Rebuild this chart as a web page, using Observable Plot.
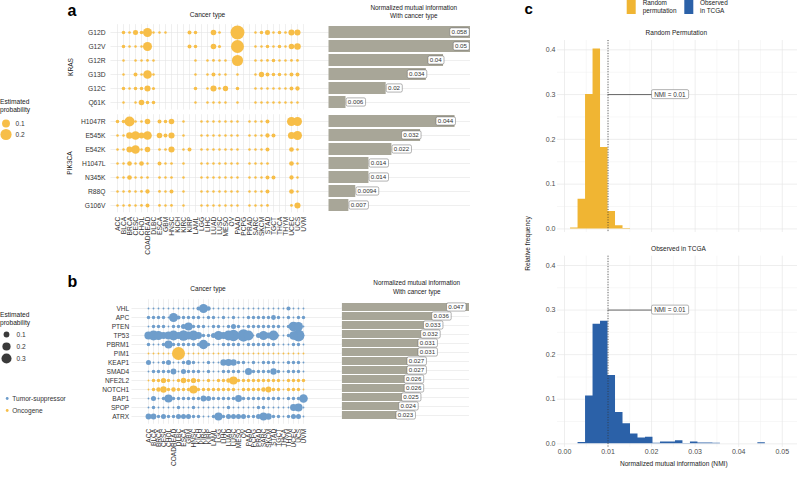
<!DOCTYPE html>
<html><head><meta charset="utf-8">
<script src="https://cdn.jsdelivr.net/npm/d3@7"></script>
<script src="https://cdn.jsdelivr.net/npm/@observablehq/plot@0.6"></script>
<style>
body{margin:0;background:#fff;}
#fig{position:relative;width:798px;height:477px;overflow:hidden;background:#fff;font-family:"Liberation Sans",Arial,sans-serif;}
</style></head><body><div id="fig"></div><script>
// ---------------- data ----------------
const cancerTypes = ["ACC","BLCA","BRCA","CESC","CHOL","COADREAD","DLBC","ESCA","GBM","HNSC","KICH","KIRC","KIRP","LAML","LGG","LIHC","LUAD","LUSC","MESO","OV","PAAD","PCPG","PRAD","SARC","SKCM","STAD","TGCT","THCA","THYM","UCEC","UCS","UVM"];

const krasVariants = ["G12D","G12V","G12R","G13D","G12C","Q61K"];
const krasProb = [
  [0,.02,.012,.04,.02,.13,.01,.01,.01,0,0,0,.025,.02,0,0,.05,.012,0,0,.31,0,0,.01,.02,.04,.01,.02,.012,.06,.06,0],
  [0,.02,.01,.01,.01,.13,0,0,0,0,0,0,.025,.02,0,0,.05,.015,0,0,.27,0,0,.01,.01,.02,.01,.02,.01,.05,.07,0],
  [0,.01,0,.01,.01,.012,.01,0,0,0,0,0,0,.01,0,.01,.012,.01,.01,0,.2,0,0,.01,.01,.012,.02,.01,.01,.012,.012,0],
  [0,.01,0,.025,.01,.12,.01,0,0,0,0,0,0,.01,0,.01,.025,.01,.01,0,.01,0,0,.01,.045,.025,.02,.02,.01,.025,.025,0],
  [0,.02,.01,.02,.02,.06,.015,0,0,0,0,0,0,.02,0,.01,.06,.012,.045,0,.02,0,0,.01,.01,.01,.01,.01,.01,.025,.03,0],
  [0,.01,0,.01,.05,.02,.02,0,0,0,0,0,0,.01,0,.01,.01,.01,.01,0,.01,0,0,.01,.01,.01,.01,.01,.01,.01,.01,0]
];
const krasNMI = [0.058,0.05,0.04,0.034,0.02,0.006];

const pik3caVariants = ["H1047R","E545K","E542K","H1047L","N345K","R88Q","G106V"];
const pik3caProb = [
  [.02,.02,.16,.012,.012,.05,0,.025,.02,.05,0,.01,0,0,.01,.01,.01,.01,.01,.01,.01,0,.01,.01,.01,.025,0,0,0,.13,.13,0],
  [.01,.01,.07,.12,.06,.12,0,.05,.025,.06,0,.01,0,0,.01,.01,.01,.01,.01,.01,.01,0,.01,.01,.01,.03,.025,0,0,.08,.13,0],
  [.01,.01,.06,.12,.01,.05,0,.012,.012,.06,0,.01,.025,0,.01,.01,.01,.01,.01,.01,.01,0,.01,.01,.01,.025,0,0,0,.035,.012,0],
  [.01,.01,.035,.01,.035,.01,0,.025,.01,.012,0,.01,0,0,.01,.01,.01,.01,.01,.01,.01,0,.01,.01,.01,.012,0,0,0,.035,.01,0],
  [.01,.01,.035,.01,.012,.012,0,.012,.01,.012,0,.01,0,0,.01,.01,.01,.01,.01,.01,.01,0,.01,.01,.01,.025,.025,0,0,.03,.01,0],
  [.01,.01,.012,.01,.012,.03,0,.012,.01,.025,0,.01,0,0,.01,.01,.01,.01,.01,.01,.01,0,.01,.01,.01,.025,0,0,0,.035,.01,0],
  [.01,.01,.012,.01,.012,.025,0,.012,.01,.012,0,.01,0,0,.01,.01,.01,.01,.01,.01,.01,0,.01,.01,.01,.012,0,0,0,.012,.06,0]
];
const pik3caNMI = [0.044,0.032,0.022,0.014,0.014,0.0094,0.007];

const driverGenes = ["VHL","APC","PTEN","TP53","PBRM1","PIM1","KEAP1","SMAD4","NFE2L2","NOTCH1","BAP1","SPOP","ATRX"];
const driverRole = ["Tumor-suppressor","Tumor-suppressor","Tumor-suppressor","Tumor-suppressor","Tumor-suppressor","Oncogene","Tumor-suppressor","Tumor-suppressor","Oncogene","Oncogene","Tumor-suppressor","Tumor-suppressor","Tumor-suppressor"];
const driverProb = [
  [.01,.01,.01,.01,.01,.01,.01,.01,.01,.01,.05,.24,.06,.01,.01,.01,.01,.01,.01,.01,.01,.01,.01,.01,.01,.01,.01,.01,.05,.01,.01,.01],
  [.035,.035,.035,.035,.01,.24,.05,.035,.035,.035,.035,.01,.035,.035,.01,.035,.01,.035,.01,.01,.035,.035,.035,.035,.035,.07,.035,.01,.035,.01,.035,.035],
  [.01,.035,.035,.035,.01,.035,.035,.075,.2,.035,.035,.035,.01,.035,.035,.01,.035,.075,.035,.01,.035,.035,.035,.035,.035,.035,.035,.01,.035,.28,.24,.01],
  [.2,.3,.24,.14,.18,.3,.14,.32,.2,.3,.14,.035,.035,.075,.24,.14,.3,.38,.035,.45,.3,.01,.075,.24,.1,.3,.01,.01,.035,.22,.42,.01],
  [.035,.01,.01,.035,.19,.035,.035,.035,.035,.035,.035,.26,.035,.01,.01,.035,.035,.035,.035,.01,.035,.035,.035,.035,.035,.035,.01,.01,.01,.035,.035,.01],
  [.01,.01,.01,.01,.01,.01,.5,.01,.01,.01,.01,.01,.01,.01,.01,.01,.01,.01,.01,.01,.01,.01,.01,.01,.01,.01,.01,.01,.01,.01,.01,.01],
  [.075,.01,.01,.035,.075,.01,.01,.035,.075,.035,.01,.01,.035,.01,.01,.12,.14,.12,.035,.035,.01,.035,.01,.035,.035,.035,.01,.01,.035,.035,.035,.01],
  [.01,.035,.035,.035,.035,.1,.01,.075,.035,.035,.035,.01,.035,.01,.01,.035,.035,.035,.035,.01,.145,.035,.035,.035,.035,.12,.035,.01,.035,.035,.035,.01],
  [.01,.035,.035,.08,.035,.01,.035,.09,.035,.08,.035,.01,.035,.01,.035,.035,.06,.2,.035,.035,.035,.035,.035,.035,.035,.035,.035,.01,.035,.035,.035,.035],
  [.01,.035,.06,.12,.035,.06,.035,.035,.035,.2,.035,.035,.035,.035,.035,.035,.035,.035,.01,.035,.035,.035,.035,.06,.1,.035,.035,.01,.035,.035,.035,.01],
  [.01,.075,.01,.035,.2,.035,.035,.035,.035,.035,.035,.1,.075,.035,.035,.035,.035,.035,.14,.035,.035,.035,.035,.035,.035,.035,.035,.01,.035,.035,.035,.22],
  [.01,.035,.01,.01,.01,.01,.035,.01,.01,.035,.01,.01,.01,.01,.01,.01,.035,.01,.01,.01,.01,.01,.035,.035,.01,.01,.01,.01,.01,.14,.2,.01],
  [.1,.1,.035,.075,.035,.035,.075,.075,.075,.035,.035,.01,.01,.035,.2,.035,.075,.075,.075,.075,.035,.035,.075,.18,.12,.035,.035,.01,.035,.075,.075,.01]
];
const driverNMI = [0.047,0.036,0.033,0.032,0.031,0.031,0.027,0.027,0.026,0.026,0.025,0.024,0.023];

const nmiBinStart = [0.0014,0.00312,0.00484,0.00656,0.00828,0.0100,0.01172,0.01344,0.01516,0.01688,0.0186,0.02032,0.02204,0.02376,0.02548,0.0272,0.02892,0.03064,0.03236,0.03408,0.0358,0.03752,0.03924,0.04096,0.04268,0.0444];
const nmiBinWidth = 0.00172;
const permutedFreq = [0.002,0.066,0.300,0.402,0.182,0.039,0.007,0.001,0,0,0,0,0,0,0,0,0,0,0,0,0,0,0,0,0,0];
const observedFreq = [0,0.003,0.107,0.268,0.275,0.153,0.070,0.045,0.022,0.013,0.015,0.0015,0.004,0.004,0.007,0.001,0.004,0.002,0.002,0.0015,0,0,0,0,0,0.0025];
const nmiThreshold = 0.01;
const nmiTicks = [0,0.01,0.02,0.03,0.04,0.05];
const nmiMinorTicks = [0.005,0.015,0.025,0.035,0.045];
const freqTicks = [0,0.1,0.2,0.3,0.4];
const freqMinorTicks = [0.05,0.15,0.25,0.35];
const probLegendA = [0.1,0.2];
const probLegendB = [0.1,0.2,0.3];
const roleLegend = ["Tumor-suppressor","Oncogene"];

// ---------------- styles ----------------
const FONT = '"Liberation Sans", Arial, Helvetica, sans-serif';
const orange = "#F7BE48", blue = "#6E9DCB", gridColor = "#E4E4E4", barGray = "#A8A698";
const permColor = "#F0B533", obsColor = "#2B61A8";
const rA = {type:"sqrt", domain:[0,0.4], range:[0,7.9]};
const rB = {type:"sqrt", domain:[0,0.5], range:[0,6.5]};
const roleColor = {domain: roleLegend, range: [blue, orange]};
const fig = document.getElementById("fig");
const st = (fs, color="#333") => ({background:"none", overflow:"visible", fontFamily:FONT, fontSize:fs+"px", color, maxWidth:"none"});
function place(node, left, top){ node.style.position="absolute"; node.style.left=left+"px"; node.style.top=top+"px"; fig.appendChild(node); return node; }
function tidy(rows, probs, extra = () => ({})) {
  const out = [];
  rows.forEach((row, i) => probs[i].forEach((p, j) => { if (p > 0) out.push({row, cancer: cancerTypes[j], p, ...extra(i)}); }));
  return out;
}
function boxTexts(svg, pred, padX = 1.7, padY = 0.6) {
  svg.querySelectorAll("text").forEach(t => {
    if (!pred(t.textContent)) return;
    const b = t.getBBox();
    const r = document.createElementNS("http://www.w3.org/2000/svg","rect");
    r.setAttribute("x", b.x - padX); r.setAttribute("y", b.y - padY);
    r.setAttribute("width", b.width + 2*padX); r.setAttribute("height", b.height + 2*padY);
    r.setAttribute("rx", 1.5); r.setAttribute("fill", "#fff"); r.setAttribute("stroke", "#666"); r.setAttribute("stroke-width", 0.5);
    const tr = t.getAttribute("transform"); if (tr) r.setAttribute("transform", tr);
    t.parentNode.insertBefore(r, t);
  });
}

function dotPanel({rows, data, r, fill, color, width, height, frame, xPoints, yCenters, showX, fontSize, rowPad, xPad}) {
  return Plot.plot({
    width, height,
    marginLeft: frame.left, marginRight: width - frame.right, marginTop: frame.top, marginBottom: height - frame.bottom,
    style: st(fontSize),
    x: {type:"point", domain: cancerTypes, range: xPoints, padding: 0, axis: showX ? "bottom" : null, tickRotate: -90, tickSize: 0, tickPadding: xPad, label: null},
    y: {type:"point", domain: rows, range: yCenters, padding: 0, axis: "left", tickSize: 0, tickPadding: rowPad, label: null},
    r, color,
    marks: [
      Plot.ruleX(cancerTypes, {x: d => d, stroke: gridColor, strokeWidth: 0.6}),
      Plot.ruleY(rows, {y: d => d, stroke: gridColor, strokeWidth: 0.6}),
      Plot.dot(data, {x: "cancer", y: "row", r: "p", fill, stroke: null})
    ]
  });
}

function barPanel({rows, values, width, height, frame, xMax, padIn, mode}) {
  const data = rows.map((row, i) => ({row, v: values[i], label: String(values[i])}));
  const halfLab = 13.5 / ((frame.right - frame.left) / xMax);
  const marks = [
    Plot.ruleY(rows, {y: d => d, stroke: gridColor, strokeWidth: 0.6}),
    Plot.barX(data, {x: "v", y: "row", fill: barGray, clip: true})
  ];
  if (mode === "side") {
    marks.push(Plot.text(data.filter(d => d.v >= 0.03), {x: d => Math.min(d.v, xMax * 0.988), y: "row", text: "label", textAnchor: "end", dx: -1.8, fontSize: 6.2, fill: "#333"}));
    marks.push(Plot.text(data.filter(d => d.v < 0.03), {x: "v", y: "row", text: "label", textAnchor: "start", dx: 1.8, fontSize: 6.2, fill: "#333"}));
  } else {
    marks.push(Plot.text(data, {x: d => Math.min(d.v, xMax - halfLab), y: "row", text: "label", textAnchor: "middle", fontSize: 6.2, fill: "#333"}));
  }
  return Plot.plot({
    width, height,
    marginLeft: frame.left, marginRight: width - frame.right, marginTop: frame.top, marginBottom: height - frame.bottom,
    style: st(6.2),
    x: {domain: [0, xMax], axis: null},
    y: {type: "band", domain: rows, paddingInner: padIn, paddingOuter: padIn / 2, axis: null},
    marks
  });
}

function histPanel({freq, fill, width, height, frame, showX}) {
  // step outline of the histogram: each bin holds its frequency until the next bin edge
  const steps = nmiBinStart.map((x, i) => ({x, f: freq[i]}));
  steps.push({x: nmiBinStart[nmiBinStart.length - 1] + nmiBinWidth, f: 0});
  return Plot.plot({
    width, height,
    marginLeft: frame.left, marginRight: width - frame.right, marginTop: frame.top, marginBottom: height - frame.bottom,
    style: st(7, "#4D4D4D"),
    x: {domain: [-0.0016, 0.0535], ticks: nmiTicks, tickFormat: ".2f", tickSize: 0, tickPadding: 1.5, axis: showX ? "bottom" : null, label: null},
    y: {domain: [-0.008, 0.4208], ticks: freqTicks, tickFormat: ".1f", tickSize: 0, tickPadding: 2, label: null},
    marks: [
      Plot.ruleX(nmiMinorTicks, {stroke: "#F1F1F1", strokeWidth: 0.6}),
      Plot.ruleY(freqMinorTicks, {stroke: "#F1F1F1", strokeWidth: 0.6}),
      Plot.ruleX(nmiTicks, {stroke: "#E6E6E6", strokeWidth: 0.7}),
      Plot.ruleY(freqTicks, {stroke: "#E6E6E6", strokeWidth: 0.7}),
      Plot.areaY(steps, {x: "x", y: "f", curve: "step-after", fill}),
      Plot.ruleX([nmiThreshold], {stroke: "#333", strokeWidth: 0.8, strokeDasharray: "1,1.6"}),
      Plot.ruleY([0.3], {x1: nmiThreshold, x2: 0.0242, stroke: "#555", strokeWidth: 0.9}),
      Plot.text([`NMI = ${nmiThreshold}`], {x: 0.0242, y: 0.3, text: d => d, fontSize: 6.4, fill: "#333"})
    ]
  });
}

// ---------------- panel a ----------------
const krasData = tidy(krasVariants, krasProb);
const pikData = tidy(pik3caVariants, pik3caProb);
place(dotPanel({rows: krasVariants, data: krasData, r: rA, fill: orange, width: 328.3, height: 112,
  frame: {left:110.5, right:328.3, top:24.1, bottom:109.6}, xPoints:[114.3,306.7], yCenters:[31.2,102.5], showX:false, fontSize:6.7, rowPad:5.5, xPad:4}), 0, 0);
place(dotPanel({rows: pik3caVariants, data: pikData, r: rA, fill: orange, width: 328.3, height: 150,
  frame: {left:110.5, right:328.3, top:2.2, bottom:100.3}, xPoints:[114.3,306.7], yCenters:[9.2,93.3], showX:true, fontSize:6.7, rowPad:5.5, xPad:4}), 0, 112);
const aBars1 = place(barPanel({rows: krasVariants, values: krasNMI, width:150, height:112, frame:{left:8.3,right:150,top:24.1,bottom:109.6}, xMax:0.0494, padIn:0.14, mode:"side"}), 320, 0);
const aBars2 = place(barPanel({rows: pik3caVariants, values: pik3caNMI, width:150, height:102, frame:{left:8.3,right:150,top:2.2,bottom:100.3}, xMax:0.0494, padIn:0.14, mode:"side"}), 320, 112);

// ---------------- panel b ----------------
const drvData = tidy(driverGenes, driverProb, i => ({role: driverRole[i]}));
place(dotPanel({rows: driverGenes, data: drvData, r: rB, fill: "role", color: roleColor, width: 341.7, height: 187,
  frame: {left:131.5, right:341.7, top:9.2, bottom:133.8}, xPoints:[135,315], yCenters:[14,129], showX:true, fontSize:6.6, rowPad:2.8, xPad:4.5}), 0, 290);
const bBars = place(barPanel({rows: driverGenes, values: driverNMI, width:135, height:136, frame:{left:7.7,right:135,top:9.2,bottom:133.8}, xMax:0.0463, padIn:0.06, mode:"middle"}), 334, 290);

// ---------------- legends a / b ----------------
place(Plot.plot({width:40, height:28, margin:0, style: st(6.6),
  x:{domain:[0,1], range:[5.5,15], axis:null}, y:{type:"point", domain: probLegendA, range:[7.5,18.5], padding:0, axis:null}, r: rA,
  marks:[Plot.dot(probLegendA, {x: () => 0, y: d => d, r: d => d, fill: orange}),
         Plot.text(probLegendA, {x: () => 1, y: d => d, text: d => d.toFixed(1), textAnchor:"start", fill:"#333"})]}), 0, 115);
place(Plot.plot({width:40, height:38, margin:0, style: st(6.6),
  x:{domain:[0,1], range:[6,16], axis:null}, y:{type:"point", domain: probLegendB, range:[6,30], padding:0, axis:null}, r: rB,
  marks:[Plot.dot(probLegendB, {x: () => 0, y: d => d, r: d => d, fill: "#3A3A3A"}),
         Plot.text(probLegendB, {x: () => 1, y: d => d, text: d => d.toFixed(1), textAnchor:"start", fill:"#333"})]}), 0, 328);
place(Plot.plot({width:80, height:22, margin:0, style: st(6.6),
  x:{domain:[0,1], range:[6.7,11.7], axis:null}, y:{type:"point", domain: roleLegend, range:[6,18.3], padding:0, axis:null}, color: roleColor,
  marks:[Plot.dot(roleLegend, {x: () => 0, y: d => d, r: 1.4, fill: d => d}),
         Plot.text(roleLegend, {x: () => 1, y: d => d, text: d => d, textAnchor:"start", fill:"#333"})]}), 0, 392);

// ---------------- panel c ----------------
const c1 = place(histPanel({freq: permutedFreq, fill: permColor, width:278, height:232, frame:{left:37,right:277,top:40,bottom:232}, showX:false}), 520, 0);
const c2 = place(histPanel({freq: observedFreq, fill: obsColor, width:278, height:247, frame:{left:37,right:277,top:25.7,bottom:216.9}, showX:true}), 520, 230);

// boxes around value labels
[aBars1, aBars2, bBars].forEach(s => boxTexts(s, () => true));
[c1, c2].forEach(s => boxTexts(s, t => t.startsWith("NMI"), 2.6, 1.0));

// ---------------- overlay text ----------------
const ov = d3.create("svg").attr("width",798).attr("height",477)
  .style("position","absolute").style("left","0px").style("top","0px").style("overflow","visible").style("font-family",FONT);
function txt(x, y, s, {size=6.6, anchor="start", weight="normal", fill="#1a1a1a", rotate=0, central=false}={}) {
  const t = ov.append("text").attr("x",x).attr("y",y).attr("font-size",size).attr("text-anchor",anchor).attr("font-weight",weight).attr("fill",fill).text(s);
  if (central) t.attr("dominant-baseline","central");
  if (rotate) t.attr("transform",`rotate(${rotate},${x},${y})`);
}
txt(67.5, 15.5, "a", {size:16, weight:"bold", fill:"#000"});
txt(207.5, 17, "Cancer type", {anchor:"middle"});
txt(413.8, 10, "Normalized mutual information", {anchor:"middle", size:6.4});
txt(413.8, 17.5, "With cancer type", {anchor:"middle", size:6.4});
txt(70.5, 67, "KRAS", {anchor:"middle", rotate:-90, central:true});
txt(69.5, 163, "PIK3CA", {anchor:"middle", rotate:-90, central:true});
txt(0, 104, "Estimated");
txt(0, 111.5, "probability");

txt(67.5, 286.5, "b", {size:16, weight:"bold", fill:"#000"});
txt(208, 290.8, "Cancer type", {anchor:"middle"});
txt(416.7, 285, "Normalized mutual information", {anchor:"middle", size:6.4});
txt(416.7, 293.5, "With cancer type", {anchor:"middle", size:6.4});
txt(0, 316.7, "Estimated");
txt(0, 325, "probability");

txt(524.5, 13.8, "c", {size:15, weight:"bold", fill:"#000"});
ov.append("rect").attr("x",626.7).attr("y",-1).attr("width",9).attr("height",15).attr("fill",permColor);
ov.append("rect").attr("x",684.3).attr("y",-1).attr("width",9).attr("height",15).attr("fill",obsColor);
txt(642.7, 5.2, "Random", {size:6.4});
txt(642.7, 12.6, "permutation", {size:6.4});
txt(700, 5.2, "Observed", {size:6.4});
txt(700, 12.6, "in TCGA", {size:6.4});
txt(676.3, 34.5, "Random Permutation", {anchor:"middle", size:6.5});
txt(678.5, 250.5, "Observed in TCGA", {anchor:"middle", size:6.5});
txt(527, 243.5, "Relative frequency", {anchor:"middle", rotate:-90, central:true});
txt(673.8, 466, "Normalized mutual information (NMI)", {anchor:"middle"});
fig.appendChild(ov.node());
</script></body></html>
